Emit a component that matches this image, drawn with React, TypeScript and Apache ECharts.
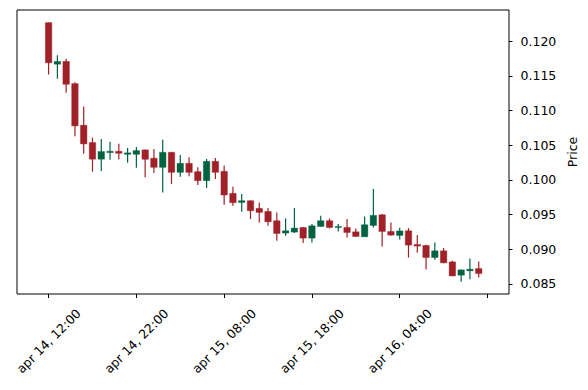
import React, { useEffect, useRef } from "react";
import * as echarts from "echarts";

// Hourly candles, index 0 = apr 14, 12:00
const opens = [
  0.1227, 0.1167, 0.1171, 0.1139, 0.1079, 0.1054, 0.103, 0.10395, 0.10414, 0.1037,
  0.1037, 0.10434, 0.10313, 0.10182, 0.10399, 0.1011, 0.1024, 0.1012, 0.0999, 0.10269,
  0.10125, 0.09807, 0.09676, 0.09701, 0.0959, 0.09546, 0.09412, 0.09234, 0.09248, 0.09315,
  0.09161, 0.09329, 0.09412, 0.09315, 0.09315, 0.09252, 0.0918, 0.09344, 0.09498, 0.09257,
  0.092, 0.09267, 0.09069, 0.09055, 0.08881, 0.08978, 0.08818, 0.08627, 0.08689, 0.08722,
];
const highs = [
  0.1227, 0.118, 0.1175, 0.1141, 0.1106, 0.1061, 0.1059, 0.1055, 0.10521, 0.10463,
  0.10477, 0.1044, 0.10448, 0.10579, 0.10405, 0.10362, 0.10327, 0.10182, 0.10304, 0.10318,
  0.10207, 0.09903, 0.09798, 0.09705, 0.09676, 0.09595, 0.09532, 0.09445, 0.09595, 0.09318,
  0.09364, 0.09484, 0.09445, 0.09364, 0.09436, 0.093, 0.09474, 0.0987, 0.09508, 0.09387,
  0.0931, 0.09306, 0.09205, 0.09065, 0.09098, 0.09017, 0.08833, 0.0871, 0.08867, 0.08823,
];
const lows = [
  0.1152, 0.1146, 0.1126, 0.1063, 0.1038, 0.1012, 0.1013, 0.1029, 0.10294, 0.1025,
  0.10178, 0.10038, 0.10101, 0.09821, 0.09942, 0.10048, 0.10052, 0.09928, 0.09884, 0.10015,
  0.09643, 0.09629, 0.09542, 0.09436, 0.09387, 0.09339, 0.09122, 0.09195, 0.09234, 0.09089,
  0.09098, 0.09329, 0.093, 0.09257, 0.0917, 0.0918, 0.0918, 0.09315, 0.0904, 0.09195,
  0.0914, 0.08881, 0.08949, 0.08707, 0.08848, 0.088, 0.08612, 0.0853, 0.08569, 0.08592,
];
const closes = [
  0.1169, 0.1171, 0.1138, 0.1078, 0.1052, 0.103, 0.1041, 0.10414, 0.10385, 0.10391,
  0.10424, 0.10298, 0.10182, 0.10399, 0.1011, 0.1024, 0.1011, 0.0999, 0.10269, 0.1011,
  0.09783, 0.09672, 0.09701, 0.09556, 0.09532, 0.09397, 0.09228, 0.09267, 0.09306, 0.09161,
  0.09339, 0.09412, 0.09315, 0.09329, 0.09242, 0.09185, 0.09354, 0.09489, 0.09257, 0.09205,
  0.09265, 0.0906, 0.09046, 0.08881, 0.08978, 0.08804, 0.08616, 0.08703, 0.08713, 0.0865,
];

const xTickIndices = [0, 10, 20, 30, 40, 50];
const xLabelIndices = [0, 10, 20, 30, 40];
const xTickLabels = ["apr 14, 12:00", "apr 14, 22:00", "apr 15, 08:00", "apr 15, 18:00", "apr 16, 04:00"];
const yTicks = [0.085, 0.09, 0.095, 0.1, 0.105, 0.11, 0.115, 0.12];

const UP = "#006340";
const DOWN = "#A02128";
const FONT = "DejaVu Sans";

export default function App() {
  const ref = useRef<HTMLDivElement>(null);
  useEffect(() => {
    if (!ref.current) return;
    const chart = echarts.init(ref.current, undefined, { renderer: "svg" });
    const data = opens.map((o, i) => [i, o, closes[i], lows[i], highs[i]]);
    chart.setOption({
      animation: false,
      backgroundColor: "#fff",
      grid: {
        left: 17,
        top: 10,
        width: 492,
        height: 284,
        show: true,
        borderColor: "#000",
        borderWidth: 1,
        backgroundColor: "transparent",
      },
      xAxis: {
        type: "value",
        min: -3.6,
        max: 52.45,
        axisLine: { show: false, onZero: false },
        splitLine: { show: false },
        axisTick: {
          show: true,
          customValues: xTickIndices,
          length: 4,
          lineStyle: { color: "#000", width: 1 },
        },
        axisLabel: {
          customValues: xLabelIndices,
          rotate: 45,
          align: "center",
          verticalAlign: "middle",
          margin: 47,
          color: "#000",
          fontFamily: FONT,
          fontSize: 12.5,
          formatter: (v: number) => {
            const k = xLabelIndices.indexOf(Math.round(v));
            return k >= 0 ? xTickLabels[k] : "";
          },
        },
      },
      yAxis: {
        type: "value",
        position: "right",
        min: 0.08355,
        max: 0.12452,
        axisLine: { show: false, onZero: false },
        splitLine: { show: false },
        axisTick: {
          show: true,
          customValues: yTicks,
          length: 3.5,
          lineStyle: { color: "#000", width: 1 },
        },
        axisLabel: {
          customValues: yTicks,
          margin: 11.5,
          color: "#000",
          fontFamily: FONT,
          fontSize: 12.5,
          formatter: (v: number) => v.toFixed(3),
        },
      },
      graphic: [
        {
          type: "text",
          x: 572,
          y: 152,
          rotation: Math.PI / 2,
          style: {
            text: "Price",
            fill: "#000",
            font: `12.5px "${FONT}"`,
            align: "center",
            verticalAlign: "middle",
            textAlign: "center",
            textVerticalAlign: "middle",
          },
        },
      ],
      series: [
        {
          type: "custom",
          data,
          encode: { x: 0, y: [1, 2, 3, 4] },
          renderItem: (params: any, api: any) => {
            const i = api.value(0);
            const o = api.value(1);
            const c = api.value(2);
            const l = api.value(3);
            const h = api.value(4);
            const color = c >= o ? UP : DOWN;
            const pO = api.coord([i, o]);
            const pC = api.coord([i, c]);
            const pL = api.coord([i, l]);
            const pH = api.coord([i, h]);
            const w = api.size([1, 0])[0] * 0.74;
            const top = Math.min(pO[1], pC[1]);
            const bh = Math.max(Math.abs(pO[1] - pC[1]), 1);
            return {
              type: "group",
              children: [
                {
                  type: "line",
                  shape: { x1: pH[0], y1: pH[1], x2: pL[0], y2: pL[1] },
                  style: { stroke: color, lineWidth: 1.2 },
                },
                {
                  type: "rect",
                  shape: { x: pO[0] - w / 2, y: top, width: w, height: bh },
                  style: { fill: color, stroke: color, lineWidth: 0.4 },
                },
              ],
            };
          },
        },
      ],
    });
    return () => chart.dispose();
  }, []);
  return (
    <div
      ref={ref}
      style={{ position: "fixed", left: 0, top: 0, width: 588, height: 390 }}
    />
  );
}
